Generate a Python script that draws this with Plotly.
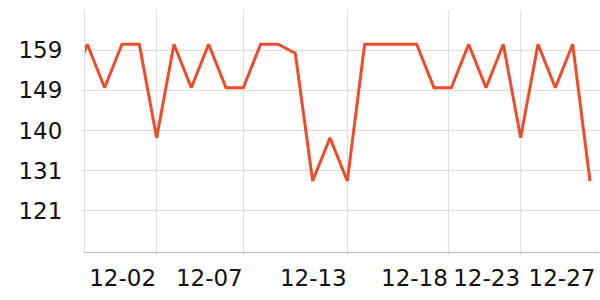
import plotly.graph_objects as go

# ---- data ----
dates = [
    "2023-11-27", "2023-11-28", "2023-11-29", "2023-11-30", "2023-12-01",
    "2023-12-02", "2023-12-03", "2023-12-04", "2023-12-05", "2023-12-06",
    "2023-12-07", "2023-12-08", "2023-12-09", "2023-12-10", "2023-12-11",
    "2023-12-12", "2023-12-13", "2023-12-14", "2023-12-15", "2023-12-16",
    "2023-12-17", "2023-12-18", "2023-12-19", "2023-12-20", "2023-12-21",
    "2023-12-22", "2023-12-23", "2023-12-24", "2023-12-25", "2023-12-26",
    "2023-12-27",
]
values = [
    150, 160.2, 150, 160.2, 160.2,
    138.3, 160.2, 150, 160.2, 150,
    150, 160.2, 160.2, 158.1, 128.2,
    138.3, 128.2, 160.2, 160.2, 160.2,
    160.2, 150, 150, 160.2, 150,
    160.2, 138.3, 160.2, 150, 160.2,
    128.2,
]

x_tick_vals = ["2023-12-02", "2023-12-07", "2023-12-13", "2023-12-18 20:00",
               "2023-12-23", "2023-12-27 08:18"]
x_tick_text = ["12-02", "12-07", "12-13", "12-18", "12-23", "12-27"]

y_tick_vals = [121.2, 130.6, 140.0, 149.4, 158.8]
y_tick_text = ["121", "131", "140", "149", "159"]

x_range = ["2023-11-27 20:49", "2023-12-27 13:51"]
y_range = [111.6, 168.2]

LINE_COLOR = "#ef4c2c"
GRID = "#dddddd"
FONT = "DejaVu Sans"

fig = go.Figure()
fig.add_trace(go.Scatter(
    x=dates, y=values, mode="lines",
    line=dict(color=LINE_COLOR, width=3),
    hoverinfo="skip",
))

# vertical grid lines at the labelled dates (last label has no grid line)
for d in x_tick_vals[:-1]:
    fig.add_shape(type="line", xref="x", yref="paper", x0=d, x1=d, y0=0, y1=1,
                  line=dict(color=GRID, width=1), layer="below")

fig.update_layout(
    width=600, height=300, autosize=False,
    margin=dict(l=85, r=0, t=10, b=48, pad=0),
    paper_bgcolor="white", plot_bgcolor="white",
    showlegend=False,
    font=dict(family=FONT, size=23, color="#111"),
)
fig.update_xaxes(
    type="date", range=x_range,
    tickmode="array", tickvals=x_tick_vals, ticktext=x_tick_text,
    showgrid=False, zeroline=False,
    ticks="outside", ticklen=2, tickcolor=GRID,
    showline=True, linecolor="#bdbdbd", linewidth=1,
    ticklabelshift=-34, ticklabelstandoff=3,
    automargin=False,
)
fig.update_yaxes(
    range=y_range,
    tickmode="array", tickvals=y_tick_vals, ticktext=y_tick_text,
    showgrid=True, gridcolor=GRID, gridwidth=1, zeroline=False,
    ticks="outside", ticklen=3, tickcolor=GRID,
    showline=True, linecolor=GRID, linewidth=1,
    ticklabelstandoff=14,
    automargin=False,
)

fig.write_html("out.html")
